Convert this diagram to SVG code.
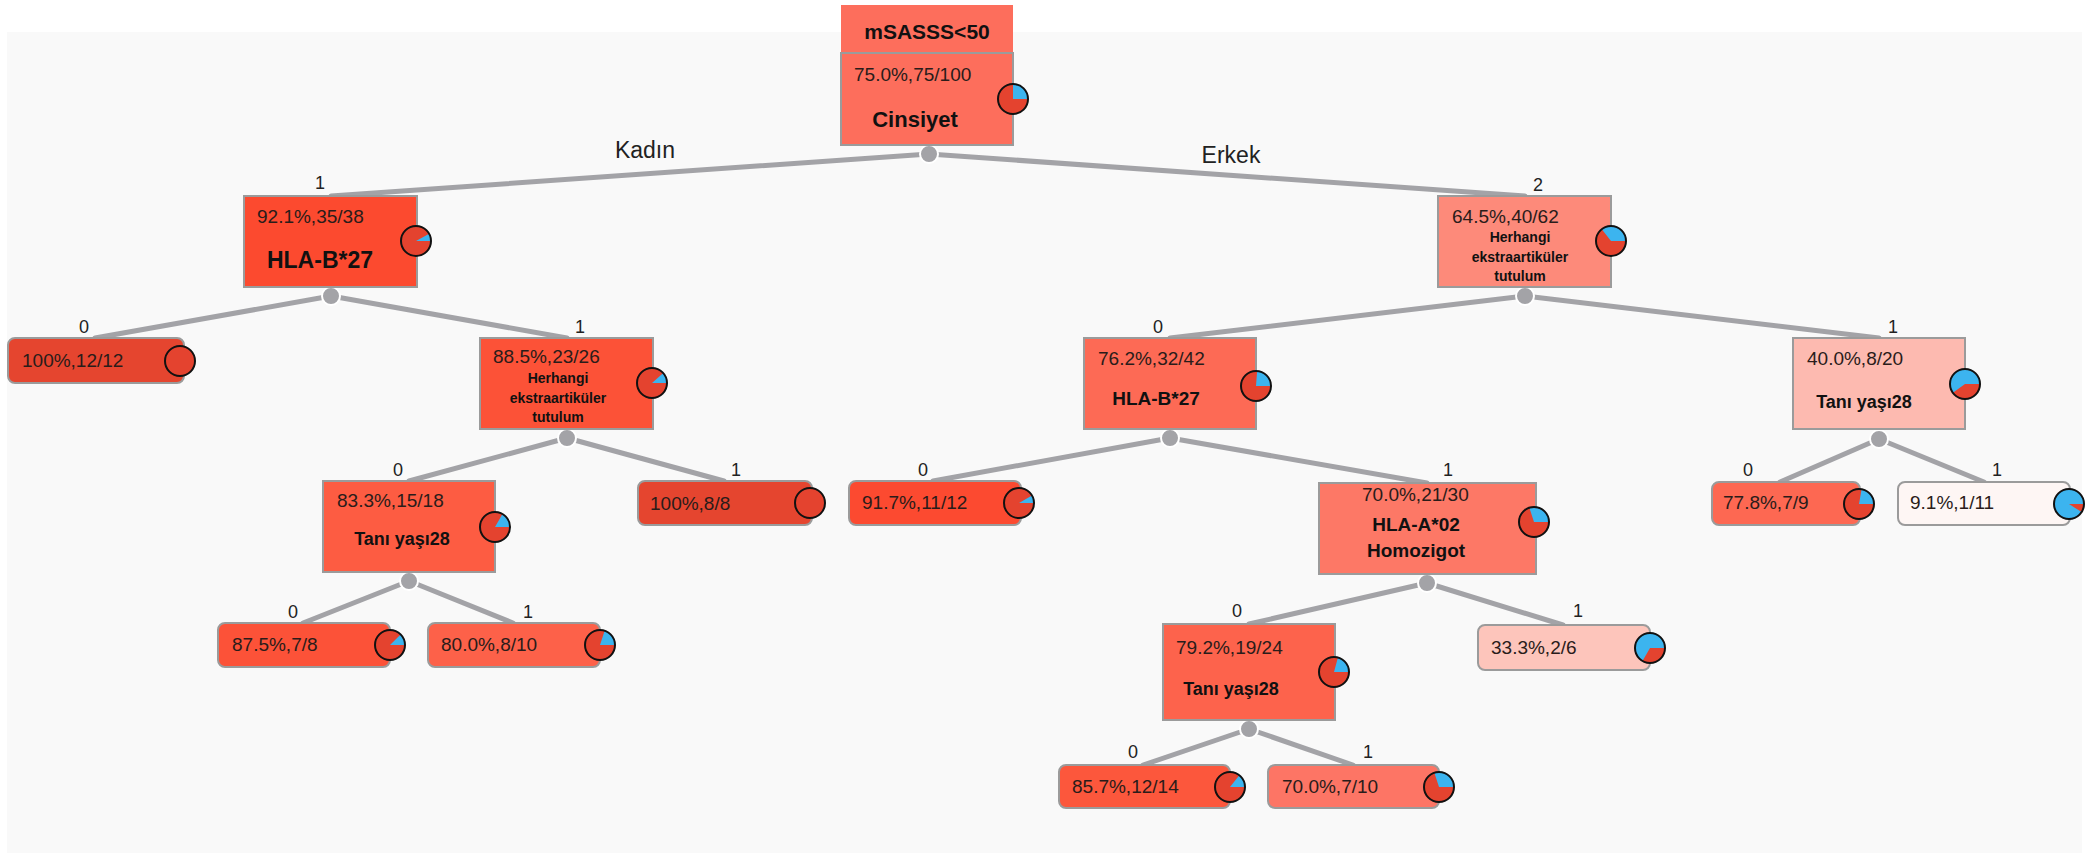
<svg xmlns="http://www.w3.org/2000/svg" width="2094" height="853" viewBox="0 0 2094 853">
<style>
.t{font-family:"Liberation Sans",Arial,sans-serif;font-size:19px;fill:#2a1c1a}
.b{font-weight:bold;fill:#111}
.h{font-size:14px}
.lbl{font-family:"Liberation Sans",Arial,sans-serif;font-size:18px;fill:#222;text-anchor:middle}
.el{font-family:"Liberation Sans",Arial,sans-serif;font-size:23px;fill:#222;text-anchor:middle}
.m{text-anchor:middle}
.box{stroke:#9b9b9b;stroke-width:2}
.edge{stroke:#a3a3a7;stroke-width:5;stroke-linecap:round;fill:none}
.dot{fill:#a3a3a7;stroke:#fff;stroke-width:2}
.pb{fill:#3cb4ef}
.pr{fill:#e4432f}
.po{fill:none;stroke:#111;stroke-width:2}
</style>
<rect x="0" y="0" width="2094" height="853" fill="#ffffff"/>
<rect x="7" y="32" width="2075" height="821" fill="#f9f9f9"/>

<g id="connectors">
<path class="edge" d="M929,154 L331,196 M929,154 L1525,196"/>
<path class="edge" d="M331,296 L95,338 M331,296 L567,338"/>
<path class="edge" d="M567,438 L409,481 M567,438 L724,481"/>
<path class="edge" d="M409,581 L303,623 M409,581 L513,623"/>
<path class="edge" d="M1525,296 L1170,338 M1525,296 L1879,338"/>
<path class="edge" d="M1170,438 L933,481 M1170,438 L1427,483"/>
<path class="edge" d="M1427,583 L1249,624 M1427,583 L1563,625"/>
<path class="edge" d="M1249,729 L1143,765 M1249,729 L1353,765"/>
<path class="edge" d="M1879,439 L1780,482 M1879,439 L1984,482"/>
<circle class="dot" cx="929" cy="154" r="9"/>
<circle class="dot" cx="331" cy="296" r="9"/>
<circle class="dot" cx="567" cy="438" r="9"/>
<circle class="dot" cx="409" cy="581" r="9"/>
<circle class="dot" cx="1525" cy="296" r="9"/>
<circle class="dot" cx="1170" cy="438" r="9"/>
<circle class="dot" cx="1427" cy="583" r="9"/>
<circle class="dot" cx="1249" cy="729" r="9"/>
<circle class="dot" cx="1879" cy="439" r="9"/>
<text class="el" x="645" y="158">Kadın</text>
<text class="el" x="1231" y="163">Erkek</text>
<text class="lbl" x="320" y="189">1</text>
<text class="lbl" x="1538" y="191">2</text>
<text class="lbl" x="84" y="333">0</text>
<text class="lbl" x="580" y="333">1</text>
<text class="lbl" x="398" y="476">0</text>
<text class="lbl" x="736" y="476">1</text>
<text class="lbl" x="293" y="618">0</text>
<text class="lbl" x="528" y="618">1</text>
<text class="lbl" x="1158" y="333">0</text>
<text class="lbl" x="1893" y="333">1</text>
<text class="lbl" x="923" y="476">0</text>
<text class="lbl" x="1448" y="476">1</text>
<text class="lbl" x="1237" y="617">0</text>
<text class="lbl" x="1578" y="617">1</text>
<text class="lbl" x="1133" y="758">0</text>
<text class="lbl" x="1368" y="758">1</text>
<text class="lbl" x="1748" y="476">0</text>
<text class="lbl" x="1997" y="476">1</text>
</g>

<g id="root">
<rect x="841" y="5" width="172" height="48" fill="#fd6e5c"/>
<rect class="box" x="841" y="53" width="172" height="92" fill="#fd6e5c"/>
<text class="t b m" x="927" y="39" style="font-size:21px">mSASSS&lt;50</text>
<text class="t" x="854" y="81">75.0%,75/100</text>
<text class="t b m" x="915" y="127" style="font-size:22px">Cinsiyet</text>
<circle class="pb" cx="1013" cy="99" r="15"/>
<path class="pr" d="M1013,99 L1028,99 A15,15 0 1 1 1013,84 Z"/>
<circle class="po" cx="1013" cy="99" r="15"/>
</g>

<g id="n_l1">
<rect class="box" x="244" y="196" width="173" height="91" fill="#fc4a2f"/>
<text class="t" x="257" y="223">92.1%,35/38</text>
<text class="t b m" x="320" y="268" style="font-size:23px">HLA-B*27</text>
<circle class="pb" cx="416" cy="241" r="15"/>
<path class="pr" d="M416,241 L431,241 A15,15 0 1 1 429.19,233.86 Z"/>
<circle class="po" cx="416" cy="241" r="15"/>
</g>

<g id="n_ll">
<rect class="box" x="8" y="338" width="176" height="45" rx="7" fill="#e5452f"/>
<text class="t" x="22" y="367">100%,12/12</text>
<circle class="pr" cx="180" cy="361" r="15"/>
<circle class="po" cx="180" cy="361" r="15"/>
</g>

<g id="n_lr">
<rect class="box" x="480" y="338" width="173" height="91" fill="#fc5237"/>
<text class="t" x="493" y="363">88.5%,23/26</text>
<text class="t b m h" x="558" y="383">Herhangi</text>
<text class="t b m h" x="558" y="403">ekstraartiküler</text>
<text class="t b m h" x="558" y="422">tutulum</text>
<circle class="pb" cx="652" cy="383" r="15"/>
<path class="pr" d="M652,383 L667,383 A15,15 0 1 1 663.25,373.08 Z"/>
<circle class="po" cx="652" cy="383" r="15"/>
</g>

<g id="n_lrl">
<rect class="box" x="323" y="481" width="172" height="91" fill="#fd5c42"/>
<text class="t" x="337" y="507">83.3%,15/18</text>
<text class="t b m" x="402" y="545" style="font-size:18px">Tanı yaşı28</text>
<circle class="pb" cx="495" cy="527" r="15"/>
<path class="pr" d="M495,527 L510,527 A15,15 0 1 1 502.47,513.99 Z"/>
<circle class="po" cx="495" cy="527" r="15"/>
</g>

<g id="n_lrll">
<rect class="box" x="218" y="623" width="172" height="44" rx="7" fill="#fc5238"/>
<text class="t" x="232" y="651">87.5%,7/8</text>
<circle class="pb" cx="390" cy="645" r="15"/>
<path class="pr" d="M390,645 L405,645 A15,15 0 1 1 400.61,634.39 Z"/>
<circle class="po" cx="390" cy="645" r="15"/>
</g>

<g id="n_lrlr">
<rect class="box" x="428" y="623" width="172" height="44" rx="7" fill="#fd6149"/>
<text class="t" x="441" y="651">80.0%,8/10</text>
<circle class="pb" cx="600" cy="645" r="15"/>
<path class="pr" d="M600,645 L615,645 A15,15 0 1 1 604.64,630.73 Z"/>
<circle class="po" cx="600" cy="645" r="15"/>
</g>

<g id="n_lrr">
<rect class="box" x="638" y="481" width="174" height="44" rx="7" fill="#e5452f"/>
<text class="t" x="650" y="510">100%,8/8</text>
<circle class="pr" cx="810" cy="503" r="15"/>
<circle class="po" cx="810" cy="503" r="15"/>
</g>

<g id="n_r1">
<rect class="box" x="1438" y="196" width="173" height="91" fill="#fd8a7a"/>
<text class="t" x="1452" y="223">64.5%,40/62</text>
<text class="t b m h" x="1520" y="242">Herhangi</text>
<text class="t b m h" x="1520" y="262">ekstraartiküler</text>
<text class="t b m h" x="1520" y="281">tutulum</text>
<circle class="pb" cx="1611" cy="241" r="15"/>
<path class="pr" d="M1611,241 L1626,241 A15,15 0 1 1 1601.81,229.15 Z"/>
<circle class="po" cx="1611" cy="241" r="15"/>
</g>

<g id="n_rl">
<rect class="box" x="1084" y="338" width="172" height="91" fill="#fd6a55"/>
<text class="t" x="1098" y="365">76.2%,32/42</text>
<text class="t b m" x="1156" y="405">HLA-B*27</text>
<circle class="pb" cx="1256" cy="386" r="15"/>
<path class="pr" d="M1256,386 L1271,386 A15,15 0 1 1 1257.12,371.04 Z"/>
<circle class="po" cx="1256" cy="386" r="15"/>
</g>

<g id="n_rll">
<rect class="box" x="849" y="481" width="172" height="44" rx="7" fill="#fc4a30"/>
<text class="t" x="862" y="509">91.7%,11/12</text>
<circle class="pb" cx="1019" cy="503" r="15"/>
<path class="pr" d="M1019,503 L1034,503 A15,15 0 1 1 1032,495.52 Z"/>
<circle class="po" cx="1019" cy="503" r="15"/>
</g>

<g id="n_rlr">
<rect class="box" x="1319" y="483" width="217" height="91" fill="#fd7866"/>
<text class="t" x="1362" y="501">70.0%,21/30</text>
<text class="t b m" x="1416" y="531">HLA-A*02</text>
<text class="t b m" x="1416" y="557">Homozigot</text>
<circle class="pb" cx="1534" cy="522" r="15"/>
<path class="pr" d="M1534,522 L1549,522 A15,15 0 1 1 1529.36,507.73 Z"/>
<circle class="po" cx="1534" cy="522" r="15"/>
</g>

<g id="n_rlrl">
<rect class="box" x="1163" y="624" width="172" height="96" fill="#fd634c"/>
<text class="t" x="1176" y="654">79.2%,19/24</text>
<text class="t b m" x="1231" y="695" style="font-size:18px">Tanı yaşı28</text>
<circle class="pb" cx="1334" cy="672" r="15"/>
<path class="pr" d="M1334,672 L1349,672 A15,15 0 1 1 1337.91,657.52 Z"/>
<circle class="po" cx="1334" cy="672" r="15"/>
</g>

<g id="n_rlrr">
<rect class="box" x="1478" y="625" width="172" height="45" rx="7" fill="#fdc5bb"/>
<text class="t" x="1491" y="654">33.3%,2/6</text>
<circle class="pb" cx="1650" cy="648" r="15"/>
<path class="pr" d="M1650,648 L1665,648 A15,15 0 0 1 1642.5,660.99 Z"/>
<circle class="po" cx="1650" cy="648" r="15"/>
</g>

<g id="n_rlrll">
<rect class="box" x="1059" y="765" width="171" height="43" rx="7" fill="#fc573c"/>
<text class="t" x="1072" y="793">85.7%,12/14</text>
<circle class="pb" cx="1230" cy="787" r="15"/>
<path class="pr" d="M1230,787 L1245,787 A15,15 0 1 1 1239.35,775.27 Z"/>
<circle class="po" cx="1230" cy="787" r="15"/>
</g>

<g id="n_rlrlr">
<rect class="box" x="1268" y="765" width="171" height="43" rx="7" fill="#fd7565"/>
<text class="t" x="1282" y="793">70.0%,7/10</text>
<circle class="pb" cx="1439" cy="787" r="15"/>
<path class="pr" d="M1439,787 L1454,787 A15,15 0 1 1 1434.36,772.73 Z"/>
<circle class="po" cx="1439" cy="787" r="15"/>
</g>

<g id="n_rr">
<rect class="box" x="1793" y="338" width="172" height="91" fill="#fdbab0"/>
<text class="t" x="1807" y="365">40.0%,8/20</text>
<text class="t b m" x="1864" y="408" style="font-size:18px">Tanı yaşı28</text>
<circle class="pb" cx="1965" cy="384" r="15"/>
<path class="pr" d="M1965,384 L1980,384 A15,15 0 0 1 1952.86,392.82 Z"/>
<circle class="po" cx="1965" cy="384" r="15"/>
</g>

<g id="n_rrl">
<rect class="box" x="1712" y="482" width="148" height="43" rx="7" fill="#fd6852"/>
<text class="t" x="1723" y="509">77.8%,7/9</text>
<circle class="pb" cx="1859" cy="504" r="15"/>
<path class="pr" d="M1859,504 L1874,504 A15,15 0 1 1 1861.6,489.23 Z"/>
<circle class="po" cx="1859" cy="504" r="15"/>
</g>

<g id="n_rrr">
<rect class="box" x="1898" y="482" width="172" height="43" rx="7" fill="#fef6f4"/>
<text class="t" x="1910" y="509">9.1%,1/11</text>
<circle class="pb" cx="2069" cy="504" r="15"/>
<path class="pr" d="M2069,504 L2084,504 A15,15 0 0 1 2081.62,512.12 Z"/>
<circle class="po" cx="2069" cy="504" r="15"/>
</g>
</svg>
